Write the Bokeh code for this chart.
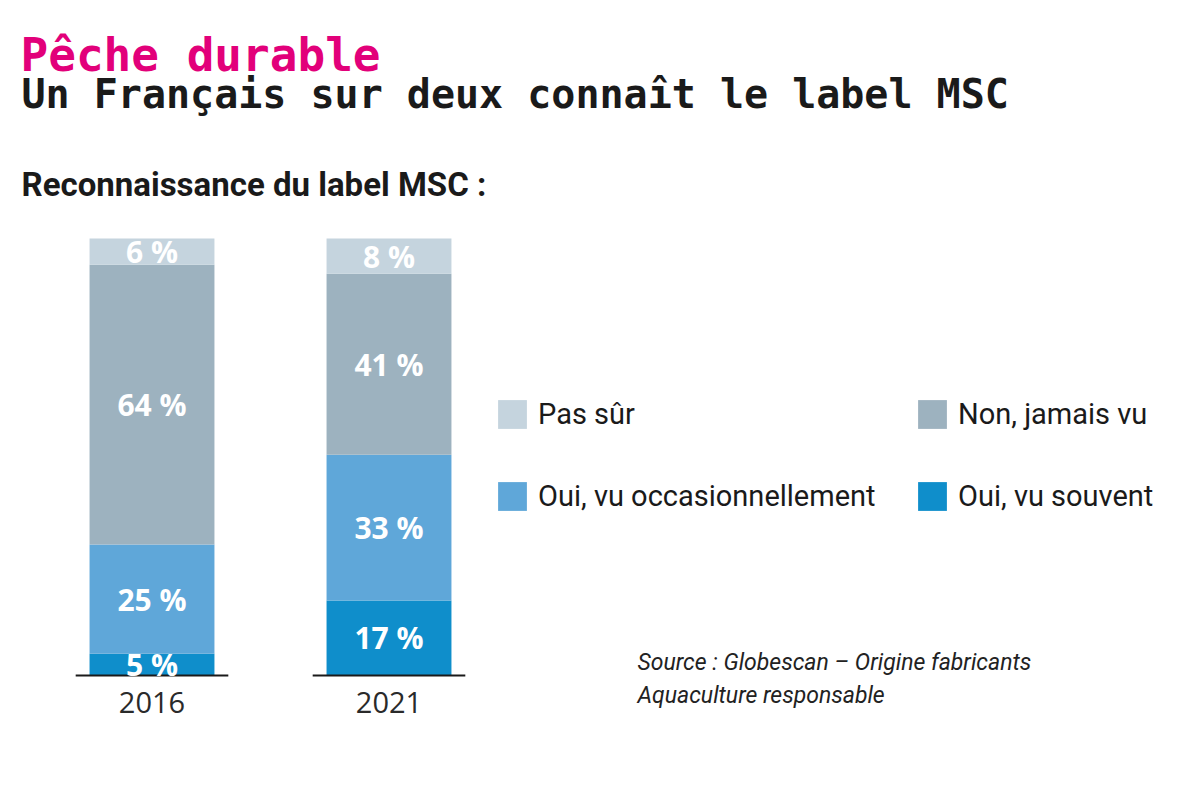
from bokeh.plotting import figure
from bokeh.models import Range1d, Label, Legend, LegendItem, FixedTicker, ColumnDataSource
from bokeh.core.properties import value
from bokeh.embed import file_html
from bokeh.resources import INLINE

# ---------------- data ----------------
years = ["2016", "2021"]
series_names = ["Oui, vu souvent", "Oui, vu occasionnellement", "Non, jamais vu", "Pas sûr"]
souvent = [5, 17]
occasionnel = [25, 33]
jamais = [64, 41]
pas_sur = [6, 8]
colors = ["#0f8ecb", "#5fa7d9", "#9db2bf", "#c5d4de"]

series = [souvent, occasionnel, jamais, pas_sur]
keys = ["souvent", "occasionnel", "jamais", "pas_sur"]
totals = [sum(s[i] for s in series) for i in range(len(years))]
shares = [[v / t * 100 for v, t in zip(s, totals)] for s in series]
xs = list(range(len(years)))

src = ColumnDataSource(dict(x=xs, **{k: sh for k, sh in zip(keys, shares)}))

# ---------------- layout constants (pixels) ----------------
FRAME_W, FRAME_H = 1182, 730
UNIT_X = 237.0        # px between the two bars
X0_PX = 151.5         # px of first bar centre
UNIT_Y = 4.37         # px per percent
BASE_PX = 675.0       # px (from top) of the baseline
Y0_PX = FRAME_H - BASE_PX


def dx(px):
    return (px - X0_PX) / UNIT_X


def dy(py):
    return (BASE_PX - py) / UNIT_Y


p = figure(frame_width=FRAME_W, frame_height=FRAME_H,
           x_range=Range1d(-X0_PX / UNIT_X, (FRAME_W - X0_PX) / UNIT_X),
           y_range=Range1d(-Y0_PX / UNIT_Y, (FRAME_H - Y0_PX) / UNIT_Y),
           output_backend="svg", toolbar_location=None, y_axis_location=None,
           min_border=0, min_border_bottom=0, outline_line_color=None,
           background_fill_color="white", border_fill_color="white")
p.grid.visible = False

renderers = p.vbar_stack(keys, x="x", width=0.527, color=colors, line_color=None, source=src)

# baselines under each bar
p.segment(x0=[x - 0.322 for x in xs], x1=[x + 0.322 for x in xs], y0=[0] * len(xs), y1=[0] * len(xs),
          line_color="#1a1a1a", line_width=2)

# value labels
lx, ly, lt = [], [], []
for i in range(len(years)):
    base = 0.0
    for s, sh in zip(series, shares):
        lx.append(xs[i])
        ly.append(base + sh[i] / 2)
        lt.append(f"{s[i]} %")
        base += sh[i]
p.text(x=lx, y=ly, text=lt, text_align="center", text_baseline="middle",
       text_color="white", text_font=value("Open Sans"), text_font_style="bold",
       text_font_size="30px")

# x axis with year labels
ax = p.xaxis[0]
ax.ticker = FixedTicker(ticks=xs)
ax.major_label_overrides = {x: y for x, y in zip(xs, years)}
ax.fixed_location = 0
ax.axis_line_color = None
ax.major_tick_line_color = None
ax.minor_tick_line_color = None
ax.major_label_standoff = 10
ax.major_label_text_font = "Open Sans"
ax.major_label_text_font_size = "29px"
ax.major_label_text_color = "#2a2a2a"

# legends (two columns)
leg_kw = dict(glyph_width=36, glyph_height=36, label_height=48, label_standoff=8, spacing=34,
              padding=0, margin=0, border_line_color=None, background_fill_alpha=0,
              label_text_font="Roboto", label_text_font_size="29px", label_text_color="#1a1a1a")
leg1 = Legend(items=[LegendItem(label=series_names[3], renderers=[renderers[3]]),
                     LegendItem(label=series_names[1], renderers=[renderers[1]])],
              location=(494, 210), **leg_kw)
leg2 = Legend(items=[LegendItem(label=series_names[2], renderers=[renderers[2]]),
                     LegendItem(label=series_names[0], renderers=[renderers[0]])],
              location=(914, 210), **leg_kw)
p.add_layout(leg1)
p.add_layout(leg2)


# texts
def lab(x, y, text, font, size, color, style="normal"):
    p.add_layout(Label(x=dx(x), y=dy(y), text=text,
                       text_font=font, text_font_size=size, text_color=color,
                       text_font_style=style, text_baseline="alphabetic"))


lab(20, 54, "Pêche durable", "DejaVu Sans Mono", "46px", "#e2007a", "bold")
lab(21, 93, "Un Français sur deux connaît le label MSC", "DejaVu Sans Mono", "40px", "#1a1a1a", "bold")
lab(21, 184, "Reconnaissance du label MSC :", "Roboto", "33px", "#1a1a1a", "bold")
lab(637, 662, "Source : Globescan – Origine fabricants", "Roboto", "23px", "#222222", "italic")
lab(637, 695, "Aquaculture responsable", "Roboto", "23px", "#222222", "italic")

open("out.html", "w").write(file_html(p, INLINE))
